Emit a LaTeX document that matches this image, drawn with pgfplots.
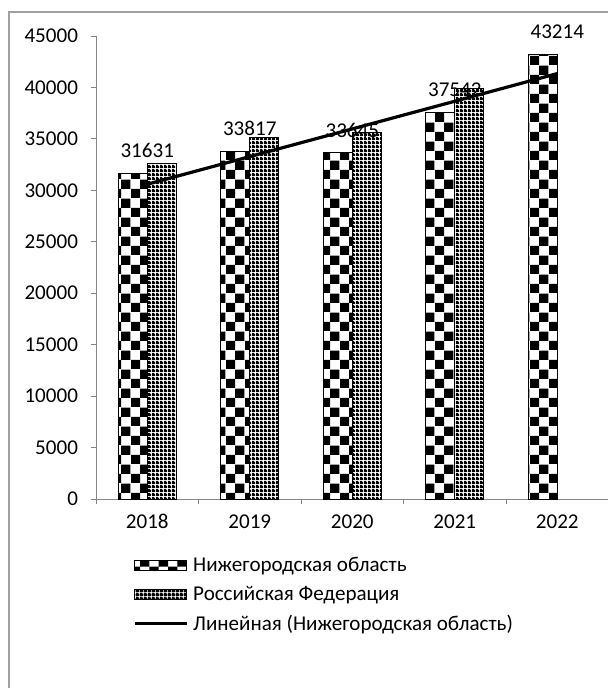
\documentclass[border=0pt]{standalone}
\usepackage{fontspec}
\setmainfont{Carlito}
\usepackage{pgfplots}
\pgfplotsset{compat=1.18}
\usetikzlibrary{patterns}

\pgfdeclarepatternformonly{bigcheck}{\pgfpointorigin}{\pgfqpoint{14pt}{14pt}}{\pgfqpoint{14pt}{14pt}}{%
  \pgfpathrectangle{\pgfpointorigin}{\pgfqpoint{7pt}{7pt}}%
  \pgfpathrectangle{\pgfqpoint{7pt}{7pt}}{\pgfqpoint{7pt}{7pt}}%
  \pgfusepath{fill}}
\pgfdeclarepatternformonly{finedots}{\pgfpointorigin}{\pgfqpoint{3pt}{3pt}}{\pgfqpoint{3pt}{3pt}}{%
  \pgfpathrectangle{\pgfpointorigin}{\pgfqpoint{3pt}{2.1pt}}%
  \pgfpathrectangle{\pgfqpoint{0pt}{2.1pt}}{\pgfqpoint{2.1pt}{0.9pt}}%
  \pgfusepath{fill}}

\definecolor{axisgray}{HTML}{868686}
\definecolor{framegray}{HTML}{A0A0A0}

\newcommand{\chfont}{\fontsize{15.8}{19}\selectfont}

\pgfplotsset{
  barlegend/.style={legend image code/.code={\draw[##1] (0pt,-3.6pt) rectangle (39pt,3.6pt);}},
  linelegend/.style={legend image code/.code={\draw[##1, line width=2pt] (0pt,0pt) -- (39pt,0pt);}},
}

\begin{document}
\begin{tikzpicture}
\useasboundingbox (-72pt,-141.75pt) rectangle (383.25pt,374.25pt);
\draw[framegray, line width=0.8pt] (-65.25pt,-300pt) rectangle (600pt,365.25pt);
\begin{axis}[
    at={(0pt,0pt)}, anchor=south west,
    scale only axis,
    width=384.4pt, height=347.25pt,
    xmin=0.5, xmax=5.5,
    ymin=0, ymax=45000,
    axis x line=bottom, axis y line=left,
    axis line style={axisgray, line width=0.75pt, -},
    tick style={axisgray, line width=0.75pt},
    tick align=outside,
    major tick length=4pt,
    xtick={1,...,5},
    xticklabels={2018,2019,2020,2021,2022},
    x tick style={draw=none},
    extra x ticks={0.5,1.5,2.5,3.5,4.5,5.5},
    extra x tick labels={},
    extra x tick style={x tick style={draw=axisgray, line width=0.75pt}},
    ytick={0,5000,...,45000},
    scaled y ticks=false,
    /pgf/number format/1000 sep={},
    /pgf/number format/assume math mode=true,
    tick label style={font=\chfont, black},
    xticklabel shift=4pt,
    y tick label style={xshift=-6pt},
    legend style={at={(axis description cs:0.072,-0.12)}, anchor=north west,
      draw=none, fill=none, font=\chfont, inner sep=0pt,
      row sep=5.3pt, cells={anchor=west},
      /tikz/every odd column/.append style={column sep=2pt}},
    every node near coord/.append style={font=\chfont, black, yshift=8pt},
]
\addplot[ybar, bar width=0.283, bar shift=-0.1415, draw=black, line width=0.75pt,
    pattern=bigcheck, pattern color=black,
    nodes near coords, barlegend]
  coordinates {(1,31631)(2,33817)(3,33645)(4,37542)(5,43214)};
\addlegendentry{Нижегородская область}
\addplot[ybar, bar width=0.283, bar shift=0.1415, draw=black, line width=0.75pt,
    pattern=finedots, pattern color=black, barlegend]
  coordinates {(1,32600)(2,35150)(3,35580)(4,39890)};
\addlegendentry{Российская Федерация}
\addplot[black, line width=2.4pt, linelegend]
  coordinates {(1,30591.6)(5,41348.0)};
\addlegendentry{Линейная (Нижегородская область)}
\end{axis}
\end{tikzpicture}
\end{document}
